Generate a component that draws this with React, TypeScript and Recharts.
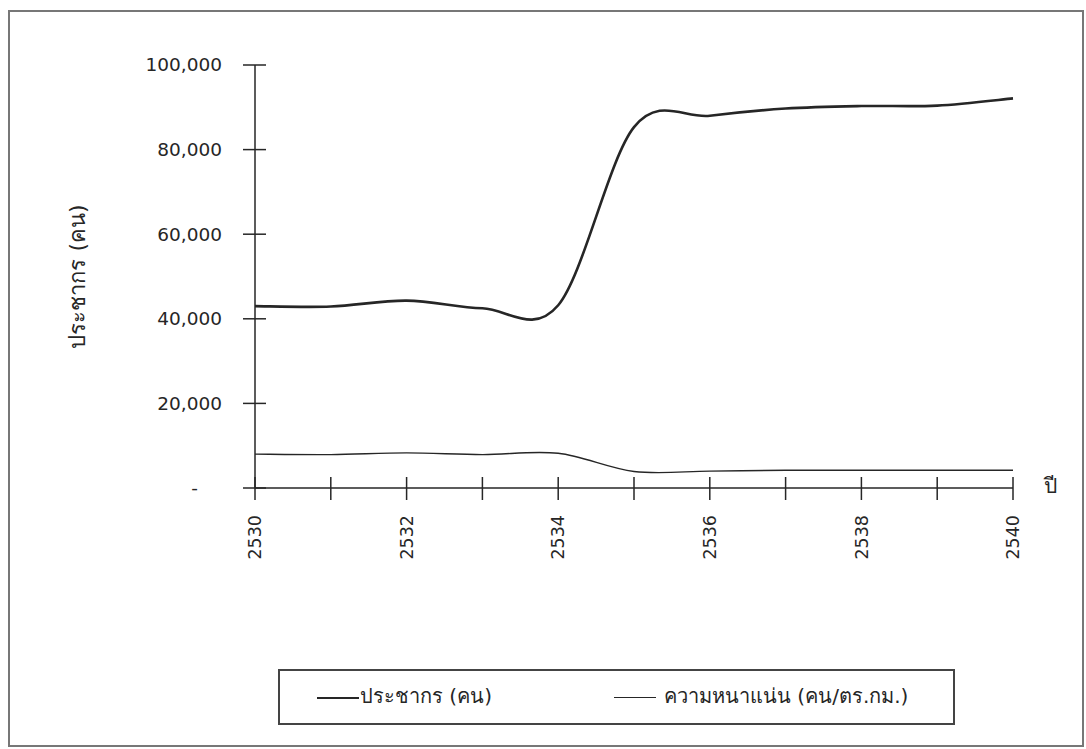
import React from "react";
import { Legend, Line, LineChart, XAxis, YAxis } from "recharts";

const years = [2530, 2531, 2532, 2533, 2534, 2535, 2536, 2537, 2538, 2539, 2540];
const population = [43000, 42900, 44300, 42500, 43200, 85300, 88000, 89700, 90300, 90400, 92100];
const density = [8000, 7900, 8300, 7900, 8200, 3900, 4000, 4200, 4200, 4200, 4200];
const yTicks = [0, 20000, 40000, 60000, 80000, 100000];
const seriesNames = ["ประชากร (คน)", "ความหนาแน่น (คน/ตร.กม.)"];
const yTitle = "ประชากร (คน)";
const xTitle = "ปี";

const data = years.map((year, i) => ({
  year,
  population: population[i],
  density: density[i],
}));

const FONT = "'DejaVu Sans', 'Noto Sans', sans-serif";
const INK = "#262626";

// Excel-like "smoothed line": cubic bezier through every point (Catmull-Rom)
function excelSmooth(context: any) {
  let pts: [number, number][] = [];
  return {
    areaStart() {},
    areaEnd() {},
    lineStart() {
      pts = [];
    },
    point(x: number, y: number) {
      pts.push([+x, +y]);
    },
    lineEnd() {
      if (!pts.length) return;
      context.moveTo(pts[0][0], pts[0][1]);
      for (let i = 0; i < pts.length - 1; i++) {
        const p0 = pts[i - 1] || pts[i];
        const p1 = pts[i];
        const p2 = pts[i + 1];
        const p3 = pts[i + 2] || p2;
        context.bezierCurveTo(
          p1[0] + (p2[0] - p0[0]) / 6,
          p1[1] + (p2[1] - p0[1]) / 6,
          p2[0] - (p3[0] - p1[0]) / 6,
          p2[1] - (p3[1] - p1[1]) / 6,
          p2[0],
          p2[1]
        );
      }
    },
  };
}

function YTick({ x, y, payload }: any) {
  const v = payload.value as number;
  return (
    <g>
      <line x1={x - 12} x2={x + 11} y1={y} y2={y} stroke={INK} strokeWidth={1.5} />
      {v === 0 ? (
        <text x={x - 57} y={y} dy="0.35em" textAnchor="end" fontSize={18.5} fill={INK} fontFamily={FONT}>
          -
        </text>
      ) : (
        <text x={x - 33} y={y} dy="0.35em" textAnchor="end" fontSize={18.5} fill={INK} fontFamily={FONT}>
          {v.toLocaleString("en-US")}
        </text>
      )}
    </g>
  );
}

function XTick({ x, y, payload }: any) {
  const v = payload.value as number;
  return (
    <g>
      <line x1={x} x2={x} y1={y - 11} y2={y + 12} stroke={INK} strokeWidth={1.5} />
      {v % 2 === 0 && (
        <text
          x={x}
          y={y + 27}
          dy="0.35em"
          textAnchor="end"
          transform={`rotate(-90, ${x}, ${y + 27})`}
          fontSize={17.5}
          fill={INK}
          fontFamily={FONT}
        >
          {v}
        </text>
      )}
    </g>
  );
}

function LegendBox({ payload }: any) {
  const items = seriesNames.map((name) => (payload || []).find((p: any) => p.value === name)).filter(Boolean);
  const slots = [
    { line: 37, text: 80 },
    { line: 334, text: 384 },
  ];
  return (
    <div
      style={{
        position: "relative",
        width: 677,
        height: 56,
        boxSizing: "border-box",
        border: "2px solid #444",
        background: "#fff",
        fontFamily: FONT,
        fontSize: 20,
        color: INK,
      }}
    >
      {items.map((item: any, i: number) => (
        <React.Fragment key={item.value}>
          <div
            style={{
              position: "absolute",
              left: slots[i].line,
              top: 26,
              width: 42,
              height: 0,
              borderTop: `${i === 0 ? 2.5 : 1.3}px solid ${INK}`,
            }}
          />
          <span
            style={{
              position: "absolute",
              left: slots[i].text,
              top: 12,
              whiteSpace: "nowrap",
              lineHeight: "26px",
            }}
          >
            {item.value}
          </span>
        </React.Fragment>
      ))}
    </div>
  );
}

export default function App() {
  return (
    <div style={{ position: "relative", width: 1086, height: 749, background: "#fff" }}>
      <style>{"body{margin:0;background:#fff}"}</style>
      <div
        style={{
          position: "absolute",
          left: 8,
          top: 10,
          width: 1076,
          height: 737,
          boxSizing: "border-box",
          border: "2px solid #777",
        }}
      />
      <LineChart
        width={1086}
        height={749}
        data={data}
        margin={{ top: 65, right: 73, bottom: 0, left: 0 }}
        style={{ position: "absolute", left: 0, top: 0 }}
      >
        <XAxis
          dataKey="year"
          type="number"
          domain={[2530, 2540]}
          ticks={years}
          interval={0}
          height={261}
          tickSize={0}
          tickMargin={0}
          tickLine={false}
          tick={<XTick />}
          axisLine={{ stroke: INK, strokeWidth: 1.5 }}
          label={{
            content: () => (
              <text x={1050} y={486} dy="0.35em" textAnchor="middle" fontSize={21} fill={INK} fontFamily={FONT}>
                {xTitle}
              </text>
            ),
          }}
        />
        <YAxis
          type="number"
          domain={[0, 100000]}
          ticks={yTicks}
          interval={0}
          width={255}
          tickSize={0}
          tickMargin={0}
          tickLine={false}
          tick={<YTick />}
          axisLine={{ stroke: INK, strokeWidth: 1.5 }}
          label={{
            content: (props: any) => {
              const vb = props.viewBox || { x: 0, y: 65, width: 255, height: 423 };
              const cy = vb.y + vb.height / 2;
              return (
                <text
                  x={77}
                  y={cy}
                  dy="0.35em"
                  textAnchor="middle"
                  transform={`rotate(-90, 77, ${cy})`}
                  fontSize={22}
                  fill={INK}
                  fontFamily={FONT}
                >
                  {yTitle}
                </text>
              );
            },
          }}
        />
        <Legend
          layout="horizontal"
          verticalAlign="middle"
          align="center"
          wrapperStyle={{ position: "absolute", left: 278, top: 669, width: 677, height: 56 }}
          content={<LegendBox />}
        />
        <Line
          name={seriesNames[0]}
          dataKey="population"
          type={excelSmooth as any}
          stroke={INK}
          strokeWidth={2.6}
          dot={false}
          activeDot={false}
          isAnimationActive={false}
        />
        <Line
          name={seriesNames[1]}
          dataKey="density"
          type={excelSmooth as any}
          stroke={INK}
          strokeWidth={1.4}
          dot={false}
          activeDot={false}
          isAnimationActive={false}
        />
      </LineChart>
    </div>
  );
}
